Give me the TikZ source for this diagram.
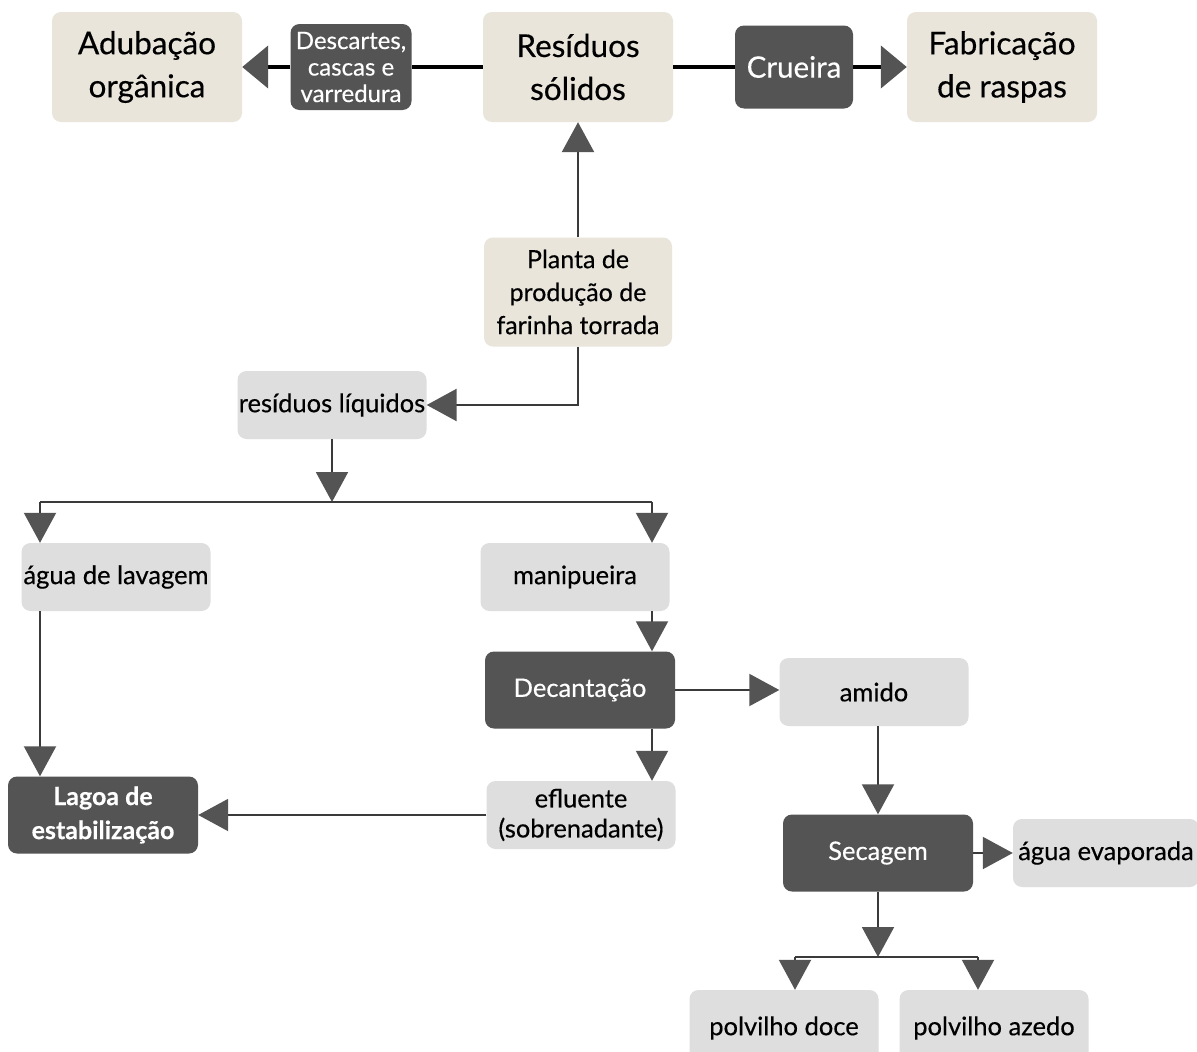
\documentclass[tikz,border=0pt]{standalone}
\usepackage{fontspec}
\setmainfont{Lato}[FakeBold=0.4]
\usetikzlibrary{arrows.meta}
\definecolor{beige}{HTML}{E9E5DB}
\definecolor{lgrey}{HTML}{DEDEDE}
\definecolor{dgrey}{HTML}{545454}
\definecolor{lineg}{HTML}{3A3A3A}
\tikzset{
  box/.style={rounded corners=9pt, align=center, inner sep=0pt, text=black},
  bbox/.style={box, fill=beige, minimum width=190pt, minimum height=110pt, font=\fontsize{31.5}{43}\selectfont},
  pbox/.style={box, fill=beige, minimum width=188pt, minimum height=109pt, font=\fontsize{25}{33}\selectfont},
  gbox/.style={box, fill=lgrey, minimum width=189pt, minimum height=68pt, font=\fontsize{25.5}{30}\selectfont},
  dbox/.style={box, fill=dgrey, text=white, minimum width=190pt, minimum height=77pt, font=\fontsize{25.5}{30}\selectfont},
  heavy/.style={draw=black, line width=4.5pt},
  heavyarr/.style={heavy, -{Triangle[length=26pt,width=42pt,color=dgrey]}},
  conn/.style={draw=lineg, line width=2pt},
  arr/.style={conn, -{Triangle[length=30pt,width=32pt,color=dgrey]}},
}
\begin{document}
\begin{tikzpicture}[x=1pt,y=-1pt]
\clip (0,0) rectangle (1197,1052);
\fill[white] (0,0) rectangle (1197,1052);

% top row
\node[bbox] (adub) at (147,67) {Adubação\\orgânica};
\node[box, fill=dgrey, text=white, minimum width=121pt, minimum height=86pt, font=\fontsize{24}{26.5}\selectfont] (desc) at (351,67) {Descartes,\\cascas e\\varredura};
\node[bbox] (res) at (578,67) {Resíduos\\sólidos};
\node[box, fill=dgrey, text=white, minimum width=118pt, minimum height=83pt, font=\fontsize{29.5}{30}\selectfont] (crue) at (794,67) {Crueira};
\node[bbox] (fab) at (1002,67) {Fabricação\\de raspas};

\node[pbox] (planta) at (578,292) {Planta de\\produção de\\farinha torrada};
\node[gbox] (rliq) at (332,405) {resíduos líquidos};

\node[gbox] (agua) at (116,577) {água de lavagem};
\node[gbox] (mani) at (575,577) {manipueira};
\node[dbox] (dec) at (580,690) {Decantação};
\node[gbox] (amido) at (874,692) {amido};
\node[dbox, font=\bfseries\fontsize{25}{34}\selectfont] (lagoa) at (103,815) {Lagoa de\\estabilização};
\node[gbox] (efl) at (581,815) {efluente\\(sobrenadante)};
\node[dbox] (sec) at (878,853) {Secagem};
\node[gbox, minimum width=186pt] (evap) at (1106,853) {água evaporada};
\node[gbox, minimum height=76pt] (pdoce) at (784,1028) {polvilho doce};
\node[gbox, minimum height=76pt] (pazedo) at (994,1028) {polvilho azedo};

% top connectors
\draw[heavy] (res.west) -- (desc.east);
\draw[heavyarr] (desc.west) -- (adub.east);
\draw[heavy] (res.east) -- (crue.west);
\draw[heavyarr] (crue.east) -- (fab.west);

% planta
\draw[arr, line width=2.5pt] (planta.north) -- (res.south);
\draw[arr, line width=2.5pt] (planta.south) |- (rliq.east);

% split 1
\coordinate (split) at (332,502);
\coordinate (sl) at (40,502);
\coordinate (sr) at (652,502);
\draw[arr] (rliq.south) -- (split);
\draw[conn] (sl) -- (sr);
\draw[arr] (sl) -- (sl |- agua.north);
\draw[arr] (sr) -- (sr |- mani.north);
\draw[arr] (mani.south -| sr) -- (sr |- dec.north);
\draw[arr] (dec.south -| sr) -- (sr |- efl.north);
\draw[arr] (dec.east) -- (dec.east -| amido.west);
\draw[arr] (agua.south -| sl) -- (sl |- lagoa.north);
\draw[arr] (efl.west) -- (efl.west -| lagoa.east);
\draw[arr] (amido.south -| sec.north) -- (sec.north);
\draw[arr] (sec.east) -- (evap.west);

% split 2
\coordinate (split2) at (878,957);
\coordinate (s2l) at (795,957);
\coordinate (s2r) at (978,957);
\draw[arr] (sec.south) -- (split2);
\draw[conn] (s2l) -- (s2r);
\draw[arr] (s2l) -- (s2l |- pdoce.north);
\draw[arr] (s2r) -- (s2r |- pazedo.north);
\end{tikzpicture}
\end{document}
